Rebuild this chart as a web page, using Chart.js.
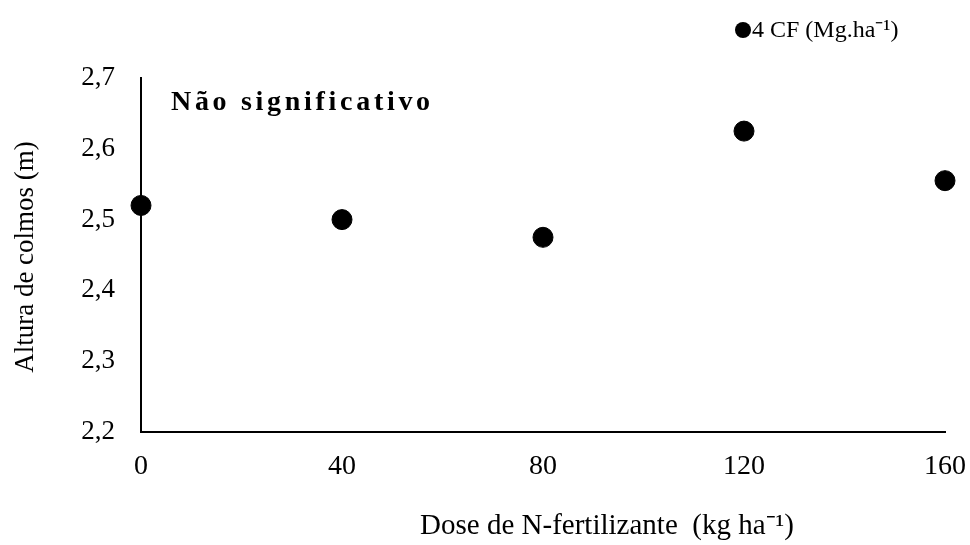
<!DOCTYPE html>
<html lang="pt">
<head>
    <meta charset="UTF-8">
    <title>Altura de colmos</title>
    <script src="https://cdn.jsdelivr.net/npm/chart.js"></script>
    <style>
        html, body { margin: 0; padding: 0; background: #fff; }
        #wrap { width: 970px; height: 545px; }
    </style>
</head>
<body>
    <div id="wrap"><canvas id="c"></canvas></div>
    <script>
        // dados
        const doses = [0, 40, 80, 120, 160];
        const altura = [2.52, 2.50, 2.475, 2.625, 2.555];
        const xTicks = [0, 40, 80, 120, 160];
        const yTicks = [2.2, 2.3, 2.4, 2.5, 2.6, 2.7];

        const serif = "'Liberation Serif', 'Times New Roman', serif";

        // textos livres: legenda, títulos dos eixos e anotação
        const textos = {
            id: 'textos',
            afterDraw(chart) {
                const ctx = chart.ctx;
                const area = chart.chartArea;
                const ds = chart.data.datasets[0];
                ctx.save();
                ctx.fillStyle = '#000';
                ctx.textBaseline = 'middle';

                // anotação
                ctx.font = 'bold 28px ' + serif;
                ctx.letterSpacing = '3.7px';
                ctx.fillText('Não significativo', area.left + 30, 103);
                ctx.letterSpacing = '0px';

                // legenda
                ctx.beginPath();
                ctx.arc(743, 30, 8, 0, Math.PI * 2);
                ctx.fill();
                ctx.font = '24px ' + serif;
                ctx.fillText(ds.label, 752, 31);

                // título eixo x
                ctx.font = '29px ' + serif;
                ctx.textAlign = 'center';
                ctx.fillText('Dose de N-fertilizante  (kg ha\u207B\u00B9)', 607, 526);

                // título eixo y
                ctx.font = '27px ' + serif;
                ctx.translate(26, 257);
                ctx.rotate(-Math.PI / 2);
                ctx.fillText('Altura de colmos (m)', 0, 0);
                ctx.restore();
            }
        };

        new Chart(document.getElementById('c'), {
            type: 'scatter',
            data: {
                datasets: [{
                    label: '4 CF (Mg.ha\u207B\u00B9)',
                    data: doses.map((d, i) => ({ x: d, y: altura[i] })),
                    backgroundColor: '#000',
                    borderColor: '#000',
                    pointRadius: 10,
                    pointHoverRadius: 10,
                    clip: false
                }]
            },
            options: {
                responsive: true,
                maintainAspectRatio: false,
                animation: false,
                layout: { padding: { top: 78, right: 25, left: 0, bottom: 0 } },
                plugins: {
                    legend: { display: false },
                    tooltip: { enabled: false }
                },
                scales: {
                    x: {
                        type: 'linear',
                        min: 0,
                        max: 160,
                        afterBuildTicks: s => { s.ticks = xTicks.map(v => ({ value: v })); },
                        afterFit: s => { s.height = 113; s.paddingRight = 0; s.paddingLeft = 0; },
                        grid: { display: false, drawTicks: false },
                        border: { color: '#000', width: 2 },
                        ticks: {
                            color: '#000',
                            padding: 18,
                            font: { family: serif, size: 28 }
                        }
                    },
                    y: {
                        min: 2.2,
                        max: 2.7,
                        afterBuildTicks: s => { s.ticks = yTicks.map(v => ({ value: v })); },
                        afterFit: s => { s.width = 141; },
                        grid: { display: false, drawTicks: false },
                        border: { color: '#000', width: 2 },
                        ticks: {
                            color: '#000',
                            padding: 26,
                            font: { family: serif, size: 27 },
                            callback: v => v.toFixed(1).replace('.', ',')
                        }
                    }
                }
            },
            plugins: [textos]
        });
    </script>
</body>
</html>
